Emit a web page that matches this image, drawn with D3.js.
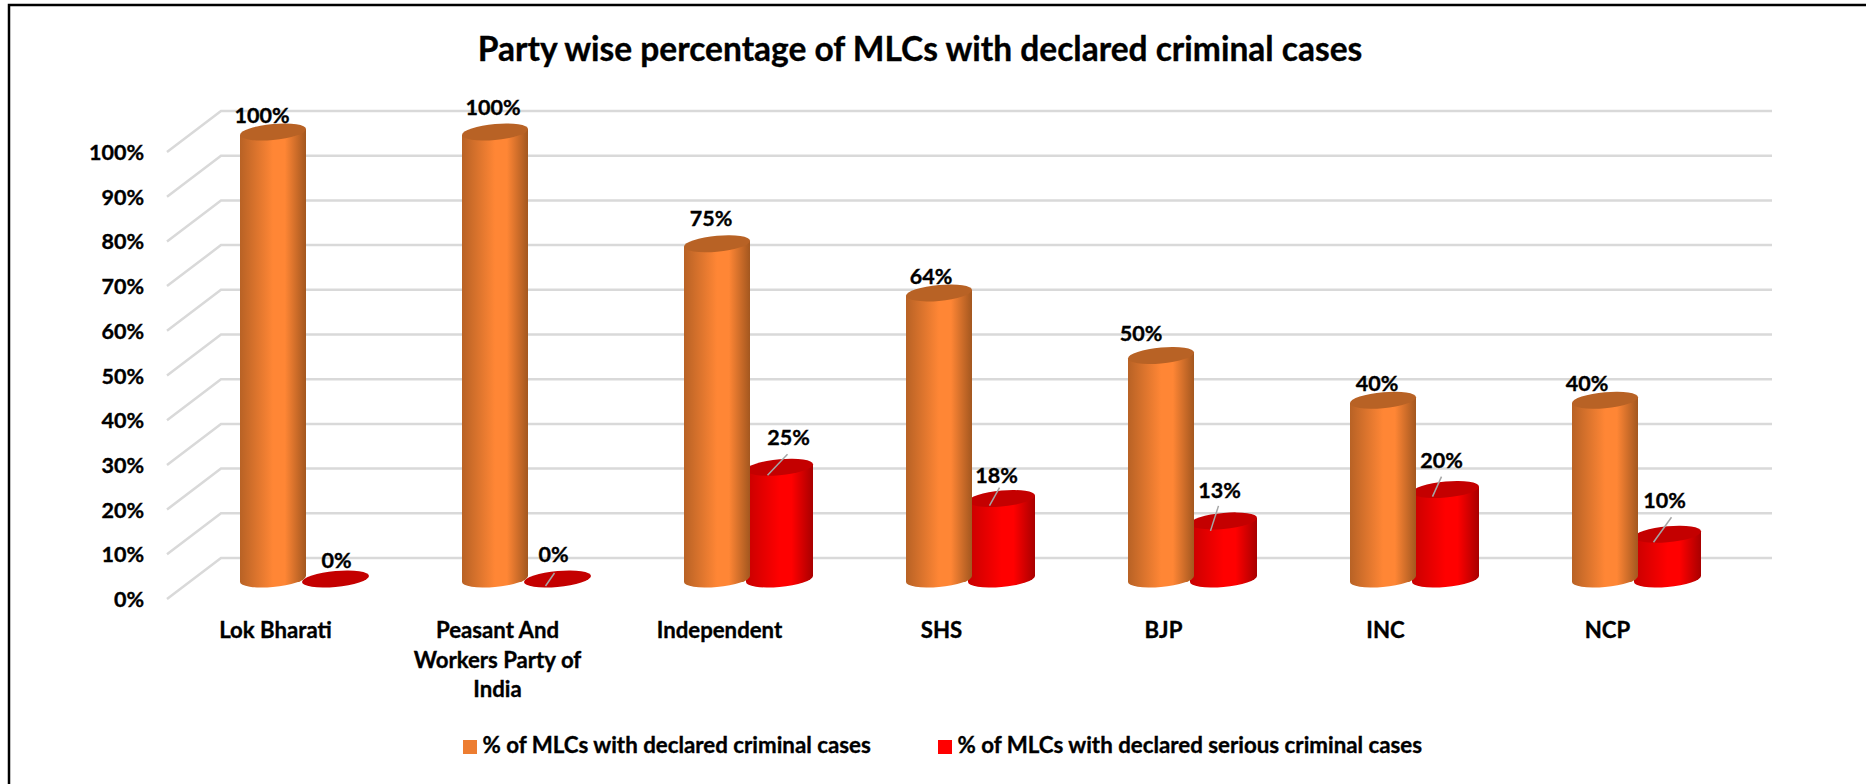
<!DOCTYPE html>
<html>
<head>
<meta charset="utf-8">
<title>Party wise percentage of MLCs</title>
<script src="https://d3js.org/d3.v7.min.js"></script>
<style>
  html, body { margin: 0; padding: 0; background: #fff; }
  svg { display: block; }
  text { font-family: Lato, "Open Sans", sans-serif; font-weight: 700; fill: #000; stroke: #000; stroke-width: 0.35px; }
</style>
</head>
<body>
<div id="chart"></div>
<script>
// data
const parties = ["Lok Bharati", "Peasant And Workers Party of India", "Independent", "SHS", "BJP", "INC", "NCP"];
const criminal = [100, 100, 75, 64, 50, 40, 40];
const serious = [0, 0, 25, 18, 13, 20, 10];
const seriesNames = ["% of MLCs with declared criminal cases", "% of MLCs with declared serious criminal cases"];
const yTicks = [0, 10, 20, 30, 40, 50, 60, 70, 80, 90, 100];
const chartTitle = "Party wise percentage of MLCs with declared criminal cases";

const width = 1866, height = 784;
const svg = d3.select("#chart").append("svg").attr("width", width).attr("height", height);

// frame, the picture only has left and top edges
svg.append("path")
  .attr("d", `M9,${height} V5 H${width}`)
  .attr("fill", "none").attr("stroke", "#000").attr("stroke-width", 2.5);

svg.append("text")
  .attr("x", 920).attr("y", 61)
  .attr("text-anchor", "middle").attr("font-size", 33.5)
  .text(chartTitle);

// y scale is the height of a column top, base is the column floor
const y = d3.scaleLinear().domain([0, 100]).range([578, 131]);
const x0 = d3.scaleBand().domain(parties).range([194, 1748]);
const x1 = d3.scaleBand().domain(["criminal", "serious"]).range([79, 206]);

const backDx = 54, backDy = -41; // depth of the chart floor
const gridLeft = 167, gridRight = 1772;
const gridY = v => y(v) + 21;

// gradients
const defs = svg.append("defs");
function cylGradient(id, edge, mid, edge2) {
  const g = defs.append("linearGradient").attr("id", id);
  g.append("stop").attr("offset", "0%").attr("stop-color", edge);
  g.append("stop").attr("offset", "50%").attr("stop-color", mid);
  g.append("stop").attr("offset", "68%").attr("stop-color", mid);
  g.append("stop").attr("offset", "100%").attr("stop-color", edge2);
}
cylGradient("orangeCyl", "#b86225", "#ff8635", "#a3571f");
cylGradient("redCyl", "#c80000", "#ff0000", "#a80000");

// gridlines with the slanted wall part
const grid = svg.append("g");
yTicks.forEach(v => {
  grid.append("path")
    .attr("d", d3.line()([[gridLeft, gridY(v)], [gridLeft + backDx, gridY(v) + backDy], [gridRight, gridY(v) + backDy]]))
    .attr("fill", "none").attr("stroke", "#d9d9d9").attr("stroke-width", 2.5);
});

// y tick labels
svg.append("g").selectAll("text").data(yTicks).join("text")
  .attr("x", 144).attr("y", d => gridY(d) + 8)
  .attr("text-anchor", "end").attr("font-size", 21.5)
  .text(d => d + "%");

// one cylinder
const ry = 8, skew = -5;
function cylinder(cx, v, rx, body, top) {
  const base = y(0) + 1;
  const g = svg.append("g").attr("transform", `translate(${cx},${base}) skewY(${skew})`);
  const h = y(0) - y(v);
  if (v > 0) {
    g.append("path")
      .attr("d", `M${-rx},${-h} V0 A${rx},${ry} 0 0 0 ${rx},0 V${-h} Z`)
      .attr("fill", `url(#${body})`);
  }
  g.append("ellipse").attr("cx", 0).attr("cy", -h).attr("rx", rx).attr("ry", ry).attr("fill", top);
}

parties.forEach((p, i) => {
  const cxA = x0(p) + x1("criminal");
  const cxB = x0(p) + x1("serious") - 1;
  cylinder(cxB, serious[i], 33.5, "redCyl", "#c40000");
  cylinder(cxA, criminal[i], 33, "orangeCyl", "#b86225");
});

// value labels: offsets follow where the picture put them
const labelA = [[-11, -8], [-2, -16], [-6, -17], [-8, -8], [-20, -14], [-6, -8], [-18, -8]];
const labelB = [[0, -10], [-5, -16], [8, -21], [-6, -15], [-5, -22], [-5, -21], [-4, -25]];
const leaders = [null, [-13, 8, -4, -5], [-13, 9, 7, -12], [-13, 8, -3, -10], [-14, 11, -6, -14], [-14, 8, -5, -12], [-15, 9, 3, -16]];
const labels = svg.append("g");
parties.forEach((p, i) => {
  const cxA = x0(p) + x1("criminal");
  const cxB = x0(p) + x1("serious");
  labels.append("text")
    .attr("x", cxA + labelA[i][0]).attr("y", y(criminal[i]) + labelA[i][1])
    .attr("text-anchor", "middle").attr("font-size", 21.5)
    .text(criminal[i] + "%");
  labels.append("text")
    .attr("x", cxB + labelB[i][0]).attr("y", y(serious[i]) + labelB[i][1])
    .attr("text-anchor", "middle").attr("font-size", 21.5)
    .text(serious[i] + "%");
  if (leaders[i]) {
    labels.append("line")
      .attr("x1", cxB + leaders[i][0]).attr("y1", y(serious[i]) + leaders[i][1])
      .attr("x2", cxB + leaders[i][2]).attr("y2", y(serious[i]) + leaders[i][3])
      .attr("stroke", "#a6a6a6").attr("stroke-width", 1.5);
  }
});

// category labels, wrapped like the original
const catLines = { "Peasant And Workers Party of India": ["Peasant And", "Workers Party of", "India"] };
parties.forEach(p => {
  const cx = x0(p) + x0.bandwidth() / 2 - 29.5;
  const t = svg.append("text").attr("text-anchor", "middle").attr("font-size", 22.2)
    .attr("x", cx).attr("y", 638);
  (catLines[p] || [p]).forEach((l, k) => {
    t.append("tspan").attr("x", cx).attr("dy", k ? 29.5 : 0).text(l);
  });
});

// legend
const legendX = [463, 938];
const legendColors = ["#ed7d31", "#ff0000"];
seriesNames.forEach((s, i) => {
  svg.append("rect").attr("x", legendX[i]).attr("y", 740).attr("width", 14).attr("height", 14).attr("fill", legendColors[i]);
  svg.append("text").attr("x", legendX[i] + 19.5).attr("y", 753).attr("font-size", 22.3).text(s);
});
</script>
</body>
</html>
